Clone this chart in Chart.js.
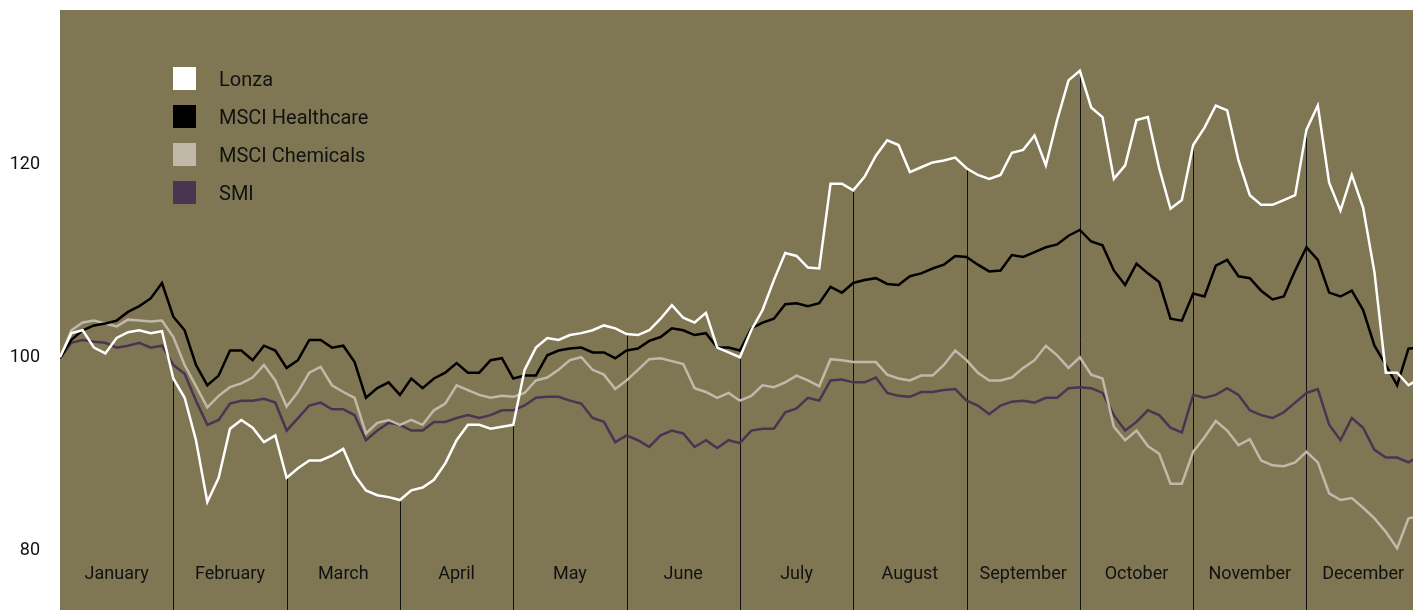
<!DOCTYPE html>
<html>
<head>
<meta charset="utf-8">
<script src="https://cdn.jsdelivr.net/npm/chart.js@4.4.1/dist/chart.umd.min.js"></script>
<style>
  html, body { margin: 0; padding: 0; background: #fff; }
  canvas { display: block; }
</style>
</head>
<body>
<canvas id="grafico" width="1413" height="610"></canvas>
<script>
const months = ['January', 'February', 'March', 'April', 'May', 'June',
  'July', 'August', 'September', 'October', 'November', 'December'];
const perMonth = 10; // sampled points per month
const yTicks = [80, 100, 120];

const lonza = [
  100, 102.5, 102.8, 101, 100.4, 102, 102.6, 102.8, 102.5, 102.7, 97.8,
  95.8, 91.4, 85, 87.5, 92.6, 93.5, 92.7, 91.2, 91.9, 87.5,
  88.5, 89.3, 89.3, 89.8, 90.5, 87.8, 86.2, 85.7, 85.5, 85.2,
  86.2, 86.5, 87.3, 89, 91.4, 93, 93, 92.6, 92.8, 93,
  98.7, 101, 102, 101.8, 102.3, 102.5, 102.8, 103.3, 103, 102.4,
  102.3, 102.8, 104, 105.4, 104.1, 103.6, 104.6, 101, 100.5, 100,
  102.8, 104.9, 108, 110.8, 110.5, 109.3, 109.2, 118, 118, 117.3,
  118.7, 120.9, 122.5, 122, 119.2, 119.7, 120.2, 120.4, 120.7, 119.6,
  118.9, 118.5, 118.9, 121.2, 121.5, 123, 119.9, 124.6, 128.7, 129.7,
  125.9, 124.9, 118.5, 119.9, 124.6, 124.9, 119.6, 115.4, 116.3, 122,
  123.8, 126.1, 125.6, 120.4, 116.8, 115.8, 115.8, 116.3, 116.8, 123.6,
  126.1, 118.1, 115.2, 118.9, 115.5, 108.8, 98.4, 98.4, 97.1, 97.8
];

const healthcare = [
  99.9, 101.8, 102.8, 103.3, 103.5, 103.8, 104.7, 105.3, 106.1, 107.7, 104.2,
  102.8, 99.2, 97.1, 98.1, 100.7, 100.7, 99.7, 101.2, 100.7, 98.9,
  99.7, 101.8, 101.8, 101, 101.2, 99.5, 95.8, 96.8, 97.4, 96.1,
  97.8, 96.8, 97.8, 98.4, 99.4, 98.4, 98.4, 99.7, 99.9, 97.8,
  98.1, 98.1, 100.2, 100.7, 100.9, 101, 100.5, 100.5, 99.9, 100.7,
  100.9, 101.7, 102.1, 103, 102.8, 102.3, 102.5, 101, 101, 100.7,
  103, 103.6, 104, 105.5, 105.6, 105.3, 105.6, 107.3, 106.7, 107.7,
  108, 108.2, 107.6, 107.5, 108.4, 108.7, 109.2, 109.6, 110.5, 110.4,
  109.6, 108.9, 109, 110.6, 110.4, 110.9, 111.4, 111.7, 112.6, 113.2,
  112, 111.6, 109, 107.5, 109.7, 108.7, 107.8, 104, 103.8, 106.6,
  106.3, 109.5, 110.1, 108.4, 108.2, 106.9, 106, 106.3, 109, 111.4,
  110.1, 106.7, 106.3, 106.9, 104.9, 101.2, 99.2, 97.1, 100.9, 101
];

const chemicals = [
  99.9, 102.8, 103.6, 103.8, 103.5, 103.2, 103.9, 103.8, 103.7, 103.8, 102.1,
  99.2, 97, 94.8, 96, 96.9, 97.3, 97.9, 99.2, 97.6, 94.9,
  96.4, 98.4, 99, 97.1, 96.4, 95.8, 92.1, 93.2, 93.5, 93,
  93.5, 93, 94.5, 95.2, 97.1, 96.6, 96.1, 95.8, 96, 95.9,
  96.3, 97.6, 97.9, 98.7, 99.7, 100, 98.7, 98.2, 96.7, 97.6,
  98.7, 99.8, 99.9, 99.6, 99.3, 96.8, 96.4, 95.8, 96.3, 95.5,
  96, 97.1, 96.9, 97.4, 98.1, 97.6, 97, 99.8, 99.7, 99.5,
  99.5, 99.5, 98.2, 97.8, 97.6, 98.1, 98.1, 99.2, 100.7, 99.7,
  98.4, 97.6, 97.6, 97.9, 98.9, 99.7, 101.2, 100.2, 98.9, 100,
  98.2, 97.8, 92.8, 91.4, 92.4, 90.8, 90, 86.9, 86.9, 90.2,
  91.7, 93.4, 92.4, 90.9, 91.5, 89.3, 88.8, 88.7, 89.1, 90.2,
  89.1, 85.9, 85.2, 85.4, 84.4, 83.3, 81.9, 80.2, 83.3, 83.5
];

const smi = [
  99.9, 101.5, 101.8, 101.6, 101.5, 101, 101.2, 101.5, 101, 101.2, 99.2,
  98.3, 95.5, 93, 93.5, 95.2, 95.5, 95.5, 95.7, 95.3, 92.4,
  93.7, 95, 95.3, 94.6, 94.6, 94, 91.4, 92.4, 93.2, 93,
  92.4, 92.4, 93.3, 93.3, 93.7, 94, 93.7, 94, 94.5, 94.5,
  95, 95.8, 95.9, 95.9, 95.5, 95.2, 93.7, 93.3, 91.2, 91.9,
  91.4, 90.7, 91.9, 92.4, 92.1, 90.7, 91.4, 90.6, 91.4, 91.1,
  92.4, 92.6, 92.6, 94.3, 94.7, 95.8, 95.5, 97.6, 97.7, 97.4,
  97.4, 97.9, 96.3, 96, 95.9, 96.4, 96.4, 96.6, 96.7, 95.5,
  95, 94.1, 95, 95.4, 95.5, 95.3, 95.8, 95.8, 96.8, 96.9,
  96.8, 96.3, 94, 92.4, 93.3, 94.5, 94, 92.7, 92.2, 96.1,
  95.8, 96.1, 96.8, 96.1, 94.5, 94, 93.7, 94.3, 95.3, 96.3,
  96.7, 93, 91.4, 93.7, 92.7, 90.4, 89.6, 89.6, 89.1, 89.8
];

const days = lonza.map((_, i) => i);
const textColor = '#111111';

// olive plot background
const plotBg = {
  id: 'plotBg',
  beforeDraw(chart) {
    const { ctx, chartArea: a } = chart;
    ctx.save();
    ctx.fillStyle = '#7f7753';
    ctx.fillRect(a.left, a.top, a.right - a.left, a.bottom - a.top);
    ctx.restore();
  }
};

// month separators drop from the Lonza line to the bottom
const monthLines = {
  id: 'monthLines',
  beforeDatasetsDraw(chart) {
    const { ctx, chartArea: a, scales: { x, y } } = chart;
    ctx.save();
    ctx.strokeStyle = '#111';
    ctx.lineWidth = 1;
    for (let m = 1; m < months.length; m++) {
      const i = m * perMonth;
      const px = Math.round(x.getPixelForValue(i)) + 0.5;
      ctx.beginPath();
      ctx.moveTo(px, y.getPixelForValue(lonza[i]));
      ctx.lineTo(px, a.bottom);
      ctx.stroke();
    }
    ctx.restore();
  }
};

const monthLabels = {
  id: 'monthLabels',
  afterDatasetsDraw(chart) {
    const { ctx, chartArea: a, scales: { x } } = chart;
    ctx.save();
    ctx.fillStyle = textColor;
    ctx.font = '18px Roboto';
    ctx.textAlign = 'center';
    ctx.textBaseline = 'alphabetic';
    months.forEach((m, k) => {
      ctx.fillText(m, x.getPixelForValue(k * perMonth + perMonth / 2), a.bottom - 31);
    });
    ctx.restore();
  }
};

const boxLegend = {
  id: 'boxLegend',
  afterDraw(chart) {
    const { ctx, chartArea: a } = chart;
    ctx.save();
    ctx.font = '20px Roboto';
    ctx.textBaseline = 'middle';
    chart.data.datasets.forEach((ds, k) => {
      const top = a.top + 57 + k * 38;
      ctx.fillStyle = ds.borderColor;
      ctx.fillRect(a.left + 113, top, 23, 23);
      ctx.fillStyle = textColor;
      ctx.fillText(ds.label, a.left + 159, top + 14);
    });
    ctx.restore();
  }
};

new Chart(document.getElementById('grafico'), {
  type: 'line',
  data: {
    labels: days,
    datasets: [
      { label: 'Lonza', data: lonza, borderColor: '#ffffff' },
      { label: 'MSCI Healthcare', data: healthcare, borderColor: '#000000' },
      { label: 'MSCI Chemicals', data: chemicals, borderColor: '#c0b8a8' },
      { label: 'SMI', data: smi, borderColor: '#4a3452' }
    ]
  },
  options: {
    responsive: false,
    animation: false,
    devicePixelRatio: 1,
    layout: { padding: { top: 10, left: 0, right: 0, bottom: 0 } },
    elements: {
      line: { borderWidth: 2.5, tension: 0, fill: false },
      point: { radius: 0, hoverRadius: 0 }
    },
    plugins: {
      legend: { display: false },
      tooltip: { enabled: false }
    },
    scales: {
      x: {
        type: 'linear',
        min: 0,
        max: 119.4,
        display: false
      },
      y: {
        min: 73.8,
        max: 136,
        afterBuildTicks: (s) => { s.ticks = yTicks.map(v => ({ value: v })); },
        afterFit: (s) => {
          s.width = 60;
          s.paddingTop = 0;
          s.paddingBottom = 0;
        },
        grid: { display: false, drawTicks: false },
        border: { display: false },
        ticks: {
          padding: 20,
          color: textColor,
          font: { family: 'Roboto', size: 18 }
        }
      }
    }
  },
  plugins: [plotBg, monthLines, monthLabels, boxLegend]
});
</script>
</body>
</html>
